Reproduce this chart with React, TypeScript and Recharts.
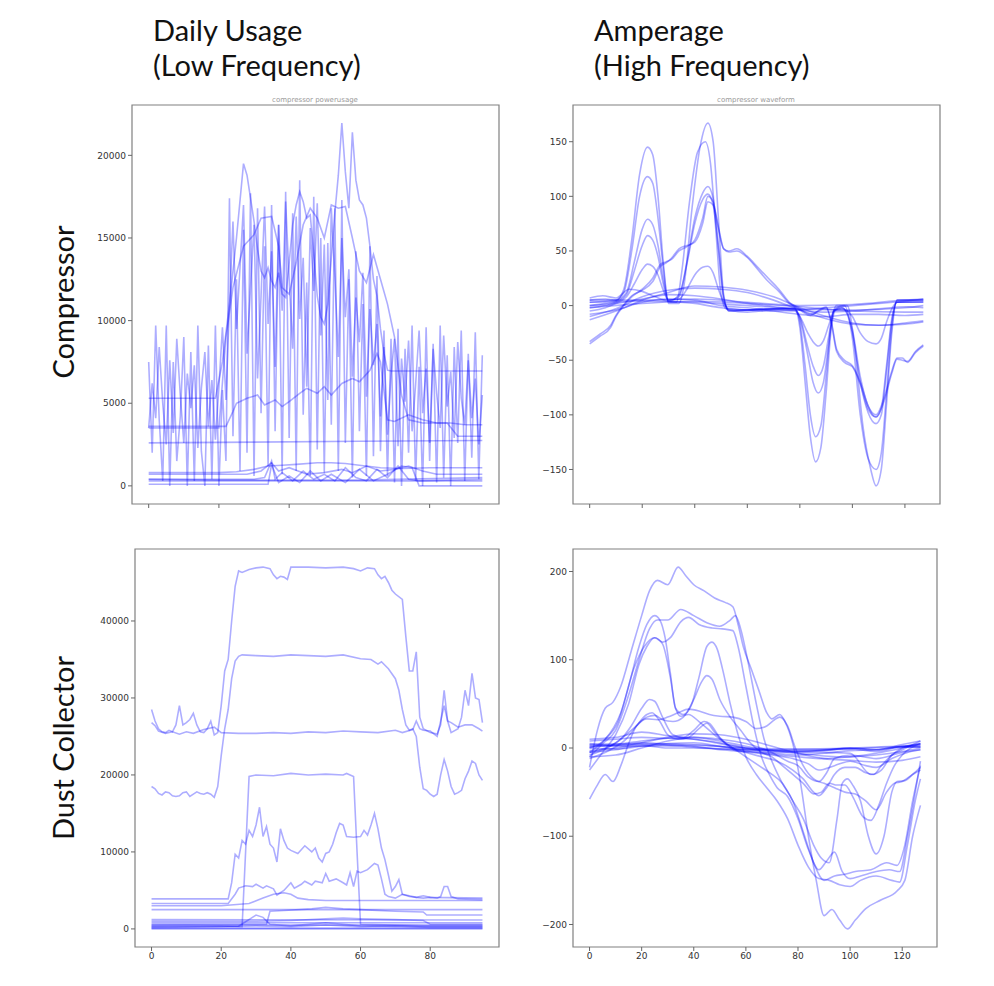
import { LineChart, Line, XAxis, YAxis, ReferenceArea } from "recharts";

type Pt = [number, number];

// ---- Compressor, daily usage (96 samples) ----
const compSpikeA = [
  7500, 2000, 9700, 4000, 300, 9700, 0, 7500, 1500, 4200, 9000, 0, 8100, 300, 9700, 2100, 0, 8500, 400, 9700, 0,
  5800, 1500, 17400, 3000, 12500, 900, 15500, 2000, 17700, 600, 16800, 4400, 14500, 1200, 17000, 3300, 15800, 700,
  17800, 2900, 16500, 900, 18500, 4300, 12300, 600, 17500, 2200, 15000, 800, 14700, 3700, 16800, 900, 17300, 2600,
  12500, 500, 14200, 3300, 11000, 600, 14500, 1800, 12700,
  2100, 9400, 600, 8900, 200, 9500, 0, 8300, 2000, 9700, 300, 7200, 0, 9600, 1500, 8600, 200, 9700, 500, 7900,
  0, 8400, 2600, 9400, 300, 8000, 1700, 9300, 400, 7900,
];
const compSpikeB = [
  3500, 6200, 4100, 8400, 5000, 2500, 7600, 3200, 8900, 5500, 2600, 6800, 4700, 7300, 2300, 5900, 8100, 3600, 6400, 2800, 6000,
  9600, 5200, 11000, 16000, 9500, 13200, 17000, 8000, 12000, 15800, 6500, 11500, 16900, 9800, 14200, 7200, 15800, 10600,
  17200, 12500, 8300, 16300, 10100, 13800, 6000, 15600, 11800, 17100, 9100, 14600, 5200, 16800, 12700, 7800, 15000, 10200,
  13100, 6600, 11400, 8700, 12900, 5400, 10700, 7300, 9800,
  4200, 8400, 3100, 6700, 8900, 2400, 7700, 5100, 8800, 3300, 6100, 9400, 4400, 7100, 2600, 8300, 5600, 3500, 9100, 4800,
  6900, 2900, 8700, 5300, 3700, 7600, 4100, 6500, 2500, 5500,
];
const compHigh: Pt[] = [
  [0, 5300], [19, 5300], [21, 7500], [23, 11000], [25, 15000], [27, 19500], [28, 18800], [30, 16000], [31, 14300],
  [32, 13000], [33, 12600], [34, 13200], [35, 12400], [36, 12000], [37, 12900], [38, 11600], [39, 11400], [40, 13500],
  [41, 15800], [42, 17000], [43, 17800], [44, 17200], [45, 16200], [46, 16400], [47, 14000], [48, 11500], [49, 10200],
  [50, 9800], [51, 11000], [52, 13800], [53, 16500], [54, 18800], [55, 21950], [56, 19000], [57, 16800], [58, 21400],
  [59, 18500], [60, 17300], [61, 17000], [62, 16200], [63, 14500], [64, 12500], [65, 11500], [66, 9500], [67, 8000],
  [68, 7000], [69, 6950], [95, 6950],
];
const compHigh2: Pt[] = [
  [0, 3500], [20, 3500], [22, 9000], [24, 12000], [27, 14500], [30, 15200], [32, 16200], [35, 16300], [37, 14500],
  [38, 12000], [40, 11600], [42, 13500], [44, 15800], [46, 16800], [48, 16200], [50, 15000], [52, 17000], [54, 16800],
  [56, 16900], [58, 15000], [60, 13000], [62, 12300], [64, 14000], [66, 12500], [68, 11000], [70, 9000], [72, 5500],
  [74, 4000], [78, 3800], [85, 3800], [88, 3000], [95, 3000],
];
const compMid: Pt[] = [
  [0, 3600], [22, 3600], [24, 4500], [25, 5000], [28, 5300], [31, 5500], [33, 4900], [36, 5200], [38, 4800], [40, 5100],
  [43, 5600], [45, 5900], [48, 5600], [50, 6000], [52, 5500], [55, 6200], [58, 6500], [60, 6300], [63, 7000], [65, 8000],
  [66, 7500], [68, 4000], [70, 3900], [74, 4300], [78, 4000], [82, 3800], [86, 3800], [90, 3700], [95, 3700],
];
const compFlat2600: Pt[] = [[0, 2600], [30, 2650], [60, 2700], [95, 2750]];
const compLowA: Pt[] = [
  [0, 800], [20, 800], [25, 850], [30, 1000], [34, 1200], [38, 1250], [42, 1300], [48, 1400], [52, 1400], [56, 1350],
  [60, 1250], [66, 1100], [72, 1050], [80, 1100], [95, 1100],
];
const compLowB: Pt[] = [
  [0, 700], [28, 700], [32, 900], [35, 1400], [37, 900], [40, 1100], [45, 700], [50, 800], [55, 1000], [58, 800],
  [62, 1200], [66, 900], [70, 1000], [74, 1200], [78, 900], [82, 700], [95, 700],
];
const compLowC: Pt[] = [
  [0, 400], [30, 400], [33, 500], [35, 1500], [36, 400], [38, 800], [41, 300], [44, 900], [47, 400], [50, 700],
  [53, 300], [56, 1100], [59, 500], [62, 300], [65, 1000], [68, 500], [71, 1200], [74, 400], [77, 300], [95, 400],
];
const compLowD: Pt[] = [[0, 300], [95, 300]];
const compLowE: Pt[] = [
  [0, 100], [34, 100], [35, 1300], [37, 200], [40, 600], [43, 200], [46, 900], [49, 300], [52, 700], [56, 200],
  [60, 1000], [64, 300], [68, 700], [72, 1200], [75, 1100], [77, 0], [95, 0],
];
const compLowF: Pt[] = [[0, 400], [20, 350], [60, 350], [95, 500]];

// ---- Compressor, amperage waveform (128 samples) ----
const compWave1: Pt[] = [
  [0, 5], [6, 6], [10, 5], [13, 15], [16, 60], [19, 120], [22, 145], [24, 138], [26, 100], [28, 40], [30, 3], [33, 3],
  [35, 30], [38, 95], [41, 140], [44, 150], [46, 130], [48, 70], [50, 10], [52, -3], [60, -4], [70, -3], [78, -3],
  [80, -20], [82, -70], [84, -120], [86, -143], [88, -130], [90, -80], [92, -20], [94, -2], [97, 0], [100, -30],
  [103, -100], [106, -140], [109, -150], [111, -135], [113, -80], [115, -20], [117, 5], [127, 5],
];
const compWave2: Pt[] = [
  [0, 3], [6, 4], [10, 5], [13, 12], [16, 50], [19, 100], [22, 118], [24, 112], [26, 80], [28, 35], [30, 2], [34, 2],
  [36, 20], [39, 90], [42, 145], [45, 167], [47, 150], [49, 80], [51, 10], [53, -5], [60, -4], [70, -3], [78, -2],
  [80, -15], [82, -55], [84, -100], [86, -120], [88, -110], [90, -65], [92, -15], [94, 0], [98, 0], [101, -40],
  [104, -110], [107, -150], [109, -165], [111, -150], [113, -90], [115, -25], [117, 5], [127, 5],
];
const compWave3: Pt[] = [
  [0, 0], [6, 2], [10, 4], [14, 12], [17, 40], [20, 70], [22, 79], [24, 74], [26, 55], [28, 25], [30, 5], [34, 8],
  [37, 40], [40, 80], [43, 103], [45, 109], [47, 98], [49, 55], [51, 8], [53, -5], [60, -4], [70, -3], [78, -3],
  [80, -12], [83, -45], [85, -70], [87, -80], [89, -70], [91, -35], [93, -5], [96, -2], [100, -25], [103, -70],
  [106, -98], [109, -108], [111, -100], [113, -60], [115, -15], [117, 3], [127, 3],
];
const compWave4: Pt[] = [
  [0, -2], [6, 0], [10, 3], [14, 10], [17, 32], [20, 55], [22, 64], [24, 60], [26, 45], [28, 20], [30, 4], [34, 10],
  [37, 38], [40, 75], [43, 97], [45, 102], [47, 92], [49, 52], [51, 6], [53, -4], [60, -4], [70, -3], [78, -4],
  [80, -10], [83, -38], [85, -55], [87, -64], [89, -55], [91, -28], [93, -4], [96, -2], [100, -22], [103, -65],
  [106, -92], [109, -102], [111, -94], [113, -55], [115, -12], [117, 3], [127, 3],
];
const compWave5: Pt[] = [
  [0, -5], [6, -2], [10, 2], [14, 8], [17, 20], [20, 33], [22, 38], [24, 36], [26, 28], [28, 14], [30, 5], [34, 6],
  [37, 15], [40, 28], [43, 35], [45, 36], [47, 30], [49, 15], [51, 3], [53, -4], [60, -6], [70, -4], [78, -5],
  [80, -10], [83, -25], [85, -33], [87, -37], [89, -32], [91, -18], [93, -5], [96, -3], [100, -10], [103, -25],
  [106, -33], [109, -35], [111, -30], [113, -15], [115, -3], [117, 3], [127, 4],
];
const compWaveSkew: Pt[] = [
  [0, -35], [4, -28], [8, -20], [10, -10], [13, 0], [16, 8], [20, 15], [24, 25], [27, 38], [29, 40], [31, 42],
  [34, 50], [37, 54], [40, 60], [43, 80], [45, 100], [47, 95], [49, 70], [51, 52], [53, 50], [56, 52], [60, 45],
  [64, 35], [68, 25], [72, 15], [76, 3], [80, -3], [84, -8], [88, -4], [90, -2], [92, -15], [94, -40], [97, -50],
  [100, -55], [103, -70], [106, -92], [109, -100], [112, -85], [115, -60], [117, -48], [119, -48], [121, -52],
  [124, -43], [127, -37],
];
const compWaveSkew2: Pt[] = [
  [0, -33], [4, -26], [8, -18], [10, -9], [13, 1], [16, 9], [20, 14], [24, 22], [27, 36], [29, 39], [31, 43],
  [34, 52], [37, 55], [40, 58], [43, 75], [45, 95], [47, 92], [49, 72], [51, 52], [53, 49], [56, 50], [60, 44],
  [64, 33], [68, 22], [72, 13], [76, 2], [80, -4], [84, -9], [88, -3], [90, -1], [92, -16], [94, -42], [97, -52],
  [100, -56], [103, -72], [106, -95], [109, -102], [112, -88], [115, -62], [117, -49], [119, -50], [121, -51],
  [124, -42], [127, -36],
];
const compWaveLow1: Pt[] = [
  [0, -13], [10, -5], [20, 5], [30, 12], [40, 18], [50, 17], [60, 14], [70, 8], [80, -2], [90, -10], [100, -16],
  [110, -18], [120, -17], [127, -15],
];
const compWaveLow2: Pt[] = [
  [0, -10], [10, -3], [20, 8], [30, 14], [40, 16], [50, 15], [60, 12], [70, 5], [80, -4], [90, -12], [100, -17],
  [110, -18], [120, -16], [127, -14],
];
const compWaveLow3: Pt[] = [
  [0, 7], [5, 9], [10, 7], [15, 15], [20, 13], [25, 8], [30, 4], [40, 2], [50, -2], [60, -4], [70, -5], [80, -4],
  [90, -2], [100, 0], [110, 2], [120, 4], [127, 6],
];
const compWaveLow4: Pt[] = [[0, 5], [20, 5], [40, 6], [60, 3], [80, 0], [100, 1], [120, 5], [127, 6]];
const compWaveLow5: Pt[] = [[0, 3], [20, 4], [40, 3], [60, 0], [80, -3], [100, -4], [120, -2], [127, 0]];
const compWaveLow6: Pt[] = [[0, -2], [20, 2], [40, 4], [60, 2], [80, -1], [100, -5], [120, -6], [127, -6]];
const compWaveLow7: Pt[] = [
  [0, 0], [10, 2], [20, 6], [30, 10], [40, 9], [50, 6], [60, 2], [70, -1], [80, -4], [90, -6], [100, -5],
  [110, -3], [120, -1], [127, -2],
];
const compWaveLow8: Pt[] = [
  [0, -8], [10, -4], [20, 3], [30, 6], [40, 5], [50, 0], [60, -2], [70, -5], [80, -8], [90, -10], [100, -8],
  [110, -8], [120, -9], [127, -8],
];

// ---- Dust collector, daily usage (96 samples) ----
const dustTop: Pt[] = [
  [0, 28500], [1, 27000], [2, 26000], [3, 25600], [4, 25500], [5, 25800], [6, 25600], [7, 26500], [8, 29000],
  [9, 26500], [10, 26800], [11, 27200], [12, 28000], [13, 26500], [14, 25600], [15, 25500], [16, 26000], [17, 27000],
  [18, 25200], [19, 25500], [20, 29000], [21, 33500], [22, 35000], [23, 40000], [24, 44500], [25, 46500], [26, 46300],
  [28, 46700], [30, 46900], [32, 47000], [34, 46800], [35, 46000], [36, 45500], [37, 45800], [38, 45700], [39, 45400],
  [40, 47000], [45, 47000], [50, 46900], [55, 47000], [58, 46800], [60, 46500], [62, 46900], [64, 46800], [65, 46000],
  [66, 45500], [67, 45800], [68, 45000], [69, 44000], [70, 43500], [72, 42800], [73, 38000], [74, 33500], [75, 33500],
  [76, 36000], [77, 27500], [78, 26000], [80, 25500], [82, 25300], [83, 26500], [84, 31000], [85, 27000], [86, 25500],
  [88, 26000], [89, 27500], [90, 31000], [91, 29000], [92, 33200], [93, 30000], [94, 29800], [95, 26800],
];
const dustSecond: Pt[] = [
  [0, 18500], [1, 18200], [2, 17600], [3, 17400], [4, 17800], [5, 17700], [6, 17300], [7, 17200], [8, 17300],
  [9, 17700], [10, 17800], [11, 17200], [12, 17500], [13, 17800], [14, 17600], [15, 17500], [16, 17700], [17, 17500],
  [18, 17100], [19, 18500], [20, 22500], [21, 26000], [22, 28500], [23, 32500], [24, 34800], [25, 35400], [26, 35600],
  [30, 35500], [35, 35400], [40, 35600], [45, 35500], [50, 35400], [55, 35600], [60, 35100], [63, 35000], [65, 34400],
  [66, 34700], [68, 33800], [70, 32500], [71, 31000], [72, 28500], [73, 26500], [74, 25800], [75, 26000], [76, 25000],
  [77, 21000], [78, 18200], [79, 18000], [80, 17500], [81, 17200], [82, 17500], [83, 20000], [84, 22000], [85, 20500],
  [86, 18500], [87, 17500], [88, 17700], [89, 18000], [90, 19500], [91, 20500], [92, 21800], [93, 21500], [94, 20000],
  [95, 19300],
];
const dustBase: Pt[] = [
  [0, 26800], [1, 26400], [2, 25700], [4, 25400], [6, 25600], [8, 25300], [10, 25600], [12, 25400], [15, 25900],
  [18, 26200], [20, 25500], [25, 25400], [30, 25400], [35, 25500], [40, 25400], [45, 25600], [50, 25500], [55, 25700],
  [60, 25600], [65, 25500], [70, 25800], [72, 25500], [75, 25900], [76, 27000], [77, 26000], [78, 25800], [80, 25700],
  [82, 25000], [84, 29000], [85, 27000], [86, 26800], [88, 26200], [90, 26500], [92, 26500], [94, 26000], [95, 25700],
];
const dustBlock: Pt[] = [
  [0, 400], [10, 450], [20, 400], [26, 300], [27, 10000], [28, 19800], [30, 20000], [35, 19900], [40, 20200],
  [45, 20000], [50, 20100], [55, 20000], [56, 20200], [58, 19800], [59, 10000], [60, 600], [70, 500], [80, 400],
  [95, 400],
];
const dustNoisy: Pt[] = [
  [0, 3900], [10, 3900], [22, 3900], [23, 6000], [24, 9700], [25, 9200], [26, 11500], [27, 11000], [28, 12800],
  [29, 12000], [30, 13500], [31, 15800], [32, 12000], [33, 13300], [34, 11000], [35, 10500], [36, 8700], [37, 13000],
  [38, 11500], [39, 10500], [40, 10200], [42, 9800], [44, 10800], [46, 10000], [47, 10500], [48, 9200], [49, 8700],
  [50, 9800], [51, 10000], [52, 11000], [53, 12500], [54, 13700], [55, 13500], [56, 12000], [58, 11900], [60, 12000],
  [61, 12800], [62, 12200], [63, 13500], [64, 15000], [65, 13000], [66, 10500], [67, 9000], [68, 7000], [69, 4900],
  [70, 5500], [71, 6400], [72, 4500], [74, 4300], [76, 4100], [78, 4000], [80, 4100], [82, 4000], [83, 4200],
  [84, 5500], [85, 5500], [86, 4200], [88, 3900], [95, 3800],
];
const dustMid: Pt[] = [
  [0, 3300], [10, 3300], [22, 3300], [24, 4500], [25, 5300], [27, 5600], [29, 5500], [30, 5800], [32, 5300],
  [33, 5600], [35, 5200], [36, 4400], [38, 5000], [40, 6000], [41, 5300], [43, 5800], [44, 6200], [46, 5700],
  [47, 6200], [49, 6000], [50, 7200], [51, 6200], [53, 6500], [55, 6000], [56, 5700], [57, 7300], [58, 5500],
  [59, 7500], [60, 7300], [62, 7700], [64, 8500], [65, 8300], [66, 6500], [67, 4500], [68, 4200], [70, 4000],
  [72, 4500], [74, 4200], [76, 4100], [78, 4300], [80, 4100], [95, 4000],
];
const dustStep: Pt[] = [
  [0, 3000], [20, 3000], [28, 3300], [32, 4000], [35, 4500], [38, 4700], [40, 4500], [42, 4000], [45, 3800],
  [50, 3700], [95, 3700],
];
const dustFlat2500: Pt[] = [[0, 2500], [30, 2500], [60, 2500], [95, 2500]];
const dustLate: Pt[] = [
  [0, 600], [33, 600], [34, 2300], [38, 2400], [46, 2600], [50, 2800], [55, 2600], [60, 2500], [70, 2300],
  [78, 2200], [79, 1800], [95, 1800],
];
const dustLow1: Pt[] = [
  [0, 1000], [30, 1000], [40, 1100], [50, 1300], [55, 1400], [60, 1300], [70, 1200], [78, 1100], [80, 600], [95, 600],
];
const dustLow2: Pt[] = [[0, 1200], [95, 1150]];
const dustLow3: Pt[] = [
  [0, 200], [20, 300], [30, 400], [40, 300], [50, 500], [60, 300], [70, 400], [80, 200], [95, 200],
];
const dustLow4: Pt[] = [[0, 100], [95, 100]];
const dustLow5: Pt[] = [
  [0, 300], [25, 350], [30, 1800], [32, 1500], [34, 600], [40, 400], [50, 800], [60, 400], [70, 300], [95, 300],
];
const dustLow6: Pt[] = [[0, 0], [95, 0]];
const dustLow7: Pt[] = [[0, 500], [95, 500]];
const dustLow8: Pt[] = [[0, 800], [95, 800]];

// ---- Dust collector, amperage waveform (128 samples) ----
const dustWaveA: Pt[] = [
  [0, -22], [3, 20], [6, 45], [9, 52], [12, 70], [16, 110], [20, 150], [23, 178], [26, 190], [30, 185], [34, 205],
  [37, 195], [40, 185], [44, 178], [48, 170], [52, 165], [55, 160], [57, 140], [59, 115], [62, 90], [65, 65], [68, 40],
  [70, 33], [73, 38], [75, 30], [78, 5], [81, -40], [84, -100], [87, -150], [90, -190], [93, -183], [96, -195],
  [99, -205], [102, -195], [106, -182], [112, -172], [118, -162], [121, -150], [124, -100], [127, -65],
];
const dustWaveB: Pt[] = [
  [0, -10], [5, 5], [10, 20], [15, 60], [19, 100], [23, 135], [26, 145], [30, 145], [35, 157], [40, 150], [45, 142],
  [50, 138], [54, 145], [56, 150], [58, 135], [61, 95], [64, 50], [67, 10], [70, -15], [74, -40], [78, -60], [82, -95],
  [86, -130], [90, -150], [94, -145], [98, -143], [102, -140], [108, -138], [114, -130], [118, -133], [121, -110],
  [124, -60], [127, -20],
];
const dustWaveC: Pt[] = [
  [0, -5], [6, 10], [11, 30], [15, 70], [19, 115], [22, 140], [25, 150], [27, 145], [29, 125], [31, 85], [33, 45],
  [36, 38], [39, 48], [42, 80], [45, 115], [47, 120], [49, 112], [51, 90], [54, 50], [57, 15], [60, -10], [64, -30],
  [68, -45], [72, -60], [76, -80], [80, -110], [84, -135], [88, -148], [92, -150], [96, -155], [100, -157],
  [104, -150], [110, -145], [116, -150], [119, -152], [122, -110], [125, -60], [127, -35],
];
const dustWaveD: Pt[] = [
  [0, 0], [6, 10], [12, 40], [17, 90], [21, 115], [25, 125], [28, 120], [31, 125], [35, 143], [38, 148], [42, 140],
  [47, 136], [51, 135], [55, 133], [57, 115], [60, 70], [63, 25], [66, -10], [69, -30], [72, -45], [76, -55],
  [80, -80], [84, -115], [88, -138], [91, -128], [94, -118], [97, -140], [100, -148], [104, -145], [110, -140],
  [115, -138], [119, -140], [122, -100], [125, -50], [127, -15],
];
const dustWaveE: Pt[] = [
  [0, -25], [5, -5], [10, 15], [15, 50], [19, 95], [22, 115], [25, 125], [28, 118], [31, 80], [33, 45], [35, 36],
  [38, 38], [42, 30], [46, 20], [50, 10], [55, 0], [60, -10], [65, -20], [70, -30], [74, -40], [78, -60], [82, -80],
  [86, -110], [89, -125], [92, -130], [95, -80], [97, -40], [99, -35], [101, -42], [104, -60], [107, -100],
  [110, -120], [113, -100], [116, -50], [118, -38], [121, -37], [124, -30], [127, -22],
];
const dustWaveF: Pt[] = [
  [0, -8], [8, 2], [14, 15], [18, 25], [22, 35], [25, 37], [28, 32], [32, 30], [36, 35], [40, 55], [43, 75], [45, 82],
  [47, 78], [50, 55], [54, 35], [58, 20], [62, 5], [66, -5], [70, -10], [74, -20], [78, -30], [82, -40], [86, -52],
  [89, -50], [92, -40], [95, -42], [98, -42], [101, -55], [105, -78], [108, -82], [111, -65], [114, -40], [117, -20],
  [120, -8], [127, 5],
];
const dustWaveG: Pt[] = [
  [0, -5], [6, 0], [12, 10], [16, 25], [20, 45], [23, 55], [25, 53], [28, 35], [32, 15], [36, 12], [40, 20], [44, 30],
  [46, 28], [50, 12], [55, 0], [60, -5], [66, -10], [72, -15], [78, -25], [82, -35], [86, -50], [88, -54], [91, -45],
  [94, -30], [98, -22], [102, -22], [106, -28], [109, -30], [112, -20], [116, -8], [120, 0], [127, 5],
];
const dustWaveH: Pt[] = [
  [0, -12], [8, -2], [14, 10], [18, 25], [22, 38], [24, 40], [27, 30], [30, 15], [34, 10], [38, 12], [42, 22],
  [45, 28], [48, 18], [52, 5], [56, -3], [62, -5], [70, -8], [78, -12], [84, -18], [88, -25], [94, -20], [100, -15],
  [106, -20], [110, -22], [116, -12], [122, -5], [127, -2],
];
const dustWaveI: Pt[] = [
  [0, -58], [3, -42], [6, -30], [9, -38], [12, -20], [15, 5], [18, 25], [22, 33], [26, 32], [30, 35], [34, 40],
  [38, 44], [42, 42], [46, 38], [50, 36], [55, 35], [60, 30], [64, 22], [68, 25], [71, 32], [73, 35], [76, 25],
  [79, 0], [82, -20], [86, -35], [90, -40], [94, -45], [98, -50], [102, -52], [106, -60], [110, -70], [114, -50],
  [117, -40], [120, -38], [124, -30], [127, -25],
];
const dustWaveN1: Pt[] = [
  [0, 5], [10, 3], [20, 6], [30, 4], [40, 2], [50, -2], [60, -4], [70, -6], [80, -8], [90, -6], [100, -3], [110, -2],
  [120, 2], [127, 4],
];
const dustWaveN2: Pt[] = [
  [0, 2], [10, 4], [20, 8], [30, 11], [40, 12], [50, 8], [60, 2], [70, -3], [80, -6], [90, -9], [100, -10],
  [110, -8], [120, -4], [127, 0],
];
const dustWaveN3: Pt[] = [
  [0, -3], [10, 0], [20, 6], [30, 12], [40, 16], [50, 15], [60, 10], [70, 2], [80, -6], [90, -12], [100, -14],
  [110, -16], [120, -14], [127, -10],
];
const dustWaveN4: Pt[] = [
  [0, 8], [10, 10], [20, 12], [30, 11], [40, 10], [50, 5], [60, 0], [70, -2], [80, -4], [90, -3], [100, 0],
  [110, -2], [120, 4], [127, 8],
];
const dustWaveN5: Pt[] = [
  [0, 0], [10, -1], [20, 3], [30, 0], [40, 0], [50, -1], [60, -2], [70, -3], [80, -3], [90, -2], [100, 0],
  [110, -2], [120, 1], [127, 1],
];
const dustWaveN6: Pt[] = [[0, 4], [20, 5], [40, 4], [60, -1], [80, -4], [100, -1], [110, -4], [120, 2], [127, 3]];
const dustWaveN7: Pt[] = [
  [0, -5], [10, -2], [20, 2], [30, 5], [40, 6], [50, 2], [60, -3], [70, -7], [80, -10], [90, -12], [100, -10],
  [110, -6], [120, 0], [127, 5],
];
const dustWaveN8: Pt[] = [
  [0, 10], [10, 12], [20, 18], [30, 14], [40, 10], [50, 6], [60, 0], [70, -5], [80, -5], [90, -5], [100, -6],
  [108, -30], [112, -25], [116, -8], [120, -2], [127, 8],
];
const dustWaveN9: Pt[] = [[0, 1], [20, 4], [40, 1], [60, -2], [80, -2], [100, -1], [120, 1], [127, 1]];
const dustWaveN10: Pt[] = [[0, 3], [20, 2], [40, 3], [60, 0], [80, -1], [100, 0], [120, 2], [127, 2]];
const dustWaveN11: Pt[] = [
  [0, -10], [10, -8], [20, 0], [30, 8], [40, 12], [50, 10], [60, 5], [70, -5], [76, -15], [80, -20], [84, -33],
  [88, -38], [91, -28], [94, -12], [100, -8], [110, -12], [120, -5], [127, -2],
];

const usageXTicks = [0, 20, 40, 60, 80];
const waveXTicks = [0, 20, 40, 60, 80, 100, 120];
const compUsageYTicks = [0, 5000, 10000, 15000, 20000];
const compWaveYTicks = [-150, -100, -50, 0, 50, 100, 150];
const dustUsageYTicks = [0, 10000, 20000, 30000, 40000];
const dustWaveYTicks = [-200, -100, 0, 100, 200];

const BLUE = "#0000ff";
const rowsFromPairs = (pts: Pt[]) => pts.map(([x, y]) => ({ x, y }));
const rowsFromSeq = (vals: number[]) => vals.map((y, x) => ({ x, y }));
const fmt = (v: number) => (v < 0 ? "\u2212" + Math.abs(v) : String(v));

type Series = { rows: { x: number; y: number }[]; curve: "linear" | "monotone" };

interface PanelProps {
  frame: [number, number, number, number];
  xDomain: [number, number];
  yDomain: [number, number];
  xTicks: number[];
  yTicks: number[];
  xLabels: boolean;
  series: Series[];
}

const Y_W = 70;
const X_H = 25;

function Panel({ frame, xDomain, yDomain, xTicks, yTicks, xLabels, series }: PanelProps) {
  const [l, t, r, b] = frame;
  const tickStyle = { fontSize: 9, fill: "#333", fontFamily: "DejaVu Sans, sans-serif" };
  return (
    <div style={{ position: "absolute", left: l - Y_W, top: t - 5 }}>
      <LineChart
        width={r - l + Y_W + 5}
        height={b - t + 5 + X_H}
        margin={{ top: 5, right: 5, bottom: 0, left: 0 }}
      >
        <XAxis
          dataKey="x"
          type="number"
          domain={xDomain}
          ticks={xTicks}
          allowDataOverflow
          axisLine={false}
          tickSize={4}
          tickLine={{ stroke: "#666" }}
          tick={tickStyle}
          tickFormatter={xLabels ? fmt : () => ""}
          height={X_H}
        />
        <YAxis
          type="number"
          domain={yDomain}
          ticks={yTicks}
          allowDataOverflow
          axisLine={false}
          tickSize={4}
          tickLine={{ stroke: "#666" }}
          tick={tickStyle}
          tickFormatter={fmt}
          width={Y_W}
        />
        {series.map((s, i) => (
          <Line
            key={i}
            data={s.rows}
            dataKey="y"
            type={s.curve}
            stroke={BLUE}
            strokeOpacity={0.32}
            strokeWidth={1.6}
            dot={false}
            activeDot={false}
            isAnimationActive={false}
          />
        ))}
        <ReferenceArea
          x1={xDomain[0]}
          x2={xDomain[1]}
          y1={yDomain[0]}
          y2={yDomain[1]}
          fill="none"
          stroke="#808080"
          strokeWidth={1.2}
          ifOverflow="visible"
        />
      </LineChart>
    </div>
  );
}

const smooth = (pts: Pt[]): Series => ({ rows: rowsFromPairs(pts), curve: "monotone" });
const sharp = (pts: Pt[]): Series => ({ rows: rowsFromPairs(pts), curve: "linear" });

export default function App() {
  const compUsage: Series[] = [
    { rows: rowsFromSeq(compSpikeA), curve: "linear" },
    { rows: rowsFromSeq(compSpikeB), curve: "linear" },
    sharp(compHigh),
    sharp(compHigh2),
    sharp(compMid),
    sharp(compFlat2600),
    sharp(compLowA),
    sharp(compLowB),
    sharp(compLowC),
    sharp(compLowD),
    sharp(compLowE),
    sharp(compLowF),
  ];
  const compWave: Series[] = [
    compWave1, compWave2, compWave3, compWave4, compWave5, compWaveSkew, compWaveSkew2,
    compWaveLow1, compWaveLow2, compWaveLow3, compWaveLow4, compWaveLow5, compWaveLow6, compWaveLow7, compWaveLow8,
  ].map(smooth);
  const dustUsage: Series[] = [
    dustTop, dustSecond, dustBase, dustBlock, dustNoisy, dustMid, dustStep, dustFlat2500, dustLate,
    dustLow1, dustLow2, dustLow3, dustLow4, dustLow5, dustLow6, dustLow7, dustLow8,
  ].map(sharp);
  const dustWave: Series[] = [
    dustWaveA, dustWaveB, dustWaveC, dustWaveD, dustWaveE, dustWaveF, dustWaveG, dustWaveH, dustWaveI,
    dustWaveN1, dustWaveN2, dustWaveN3, dustWaveN4, dustWaveN5, dustWaveN6, dustWaveN7, dustWaveN8, dustWaveN9,
    dustWaveN10, dustWaveN11,
  ].map(smooth);

  const titleFont = "Lato, 'Open Sans', sans-serif";

  return (
    <div style={{ position: "absolute", left: 0, top: 0, width: 994, height: 986, background: "#fff" }}>
      <svg width={994} height={986} style={{ position: "absolute", left: 0, top: 0 }}>
        <g fontFamily={titleFont} fontSize={29} fill="#111">
          <text x={153} y={41}>Daily Usage</text>
          <text x={153} y={76}>(Low Frequency)</text>
          <text x={594} y={41}>Amperage</text>
          <text x={594} y={76}>(High Frequency)</text>
          <text x={74} y={302} textAnchor="middle" transform="rotate(-90 74 302)">Compressor</text>
          <text x={74} y={748} textAnchor="middle" transform="rotate(-90 74 748)">Dust Collector</text>
        </g>
        <g fontFamily="DejaVu Sans, sans-serif" fontSize={7} fill="#999" textAnchor="middle">
          <text x={315} y={102}>compressor powerusage</text>
          <text x={756} y={102}>compressor waveform</text>
        </g>
      </svg>
      <Panel
        frame={[132, 105, 499, 504]}
        xDomain={[-4.75, 99.75]}
        yDomain={[-1097, 23047]}
        xTicks={usageXTicks}
        yTicks={compUsageYTicks}
        xLabels={false}
        series={compUsage}
      />
      <Panel
        frame={[573, 105, 940, 504]}
        xDomain={[-6.35, 133.35]}
        yDomain={[-181.6, 183.6]}
        xTicks={waveXTicks}
        yTicks={compWaveYTicks}
        xLabels={false}
        series={compWave}
      />
      <Panel
        frame={[135, 549, 499, 947]}
        xDomain={[-4.75, 99.75]}
        yDomain={[-2350, 49350]}
        xTicks={usageXTicks}
        yTicks={dustUsageYTicks}
        xLabels={true}
        series={dustUsage}
      />
      <Panel
        frame={[573, 549, 937, 947]}
        xDomain={[-6.35, 133.35]}
        yDomain={[-225.5, 225.5]}
        xTicks={waveXTicks}
        yTicks={dustWaveYTicks}
        xLabels={true}
        series={dustWave}
      />
    </div>
  );
}
